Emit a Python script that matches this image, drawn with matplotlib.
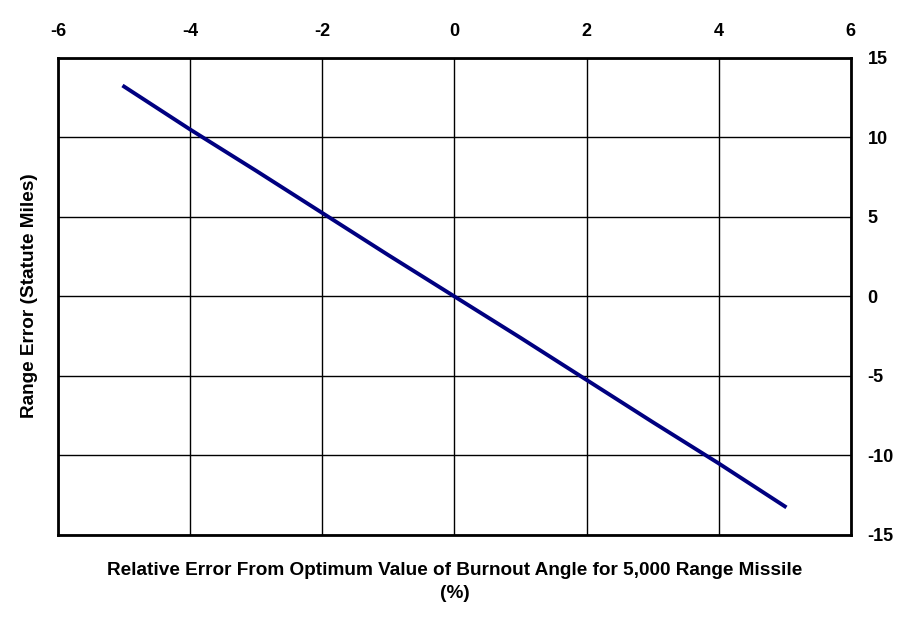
import matplotlib
matplotlib.use("Agg")
from matplotlib import pyplot as plt

# relative error in burnout angle (%) vs. range error (statute miles)
angle_err = [-5, -4, -3, -2, -1, 0, 1, 2, 3, 4, 5]
range_err = [13.2, 10.5, 7.9, 5.25, 2.6, 0, -2.6, -5.25, -7.9, -10.5, -13.2]

x_ticks = [-6, -4, -2, 0, 2, 4, 6]
y_ticks = [-15, -10, -5, 0, 5, 10, 15]

plt.rcParams['font.family'] = ['Liberation Sans', 'DejaVu Sans']
plt.rcParams['font.weight'] = 'bold'
plt.rcParams['axes.unicode_minus'] = False

fig = plt.figure(figsize=(9.11, 6.23), dpi=100)
ax = fig.add_axes([0.0637, 0.1413, 0.8703, 0.7657])

ax.plot(angle_err, range_err, color='#000080', lw=2.8, solid_capstyle='projecting')

ax.set_xlim(-6, 6)
ax.set_ylim(-15, 15)
ax.set_xticks(x_ticks)
ax.set_yticks(y_ticks)
ax.grid(True, color='black', lw=1)
ax.set_axisbelow(True)

ax.xaxis.tick_top()
ax.yaxis.tick_right()
ax.tick_params(length=0, labelsize=13)
ax.tick_params(axis='x', pad=13)
ax.tick_params(axis='y', pad=12)
for s in ax.spines.values():
    s.set_linewidth(2)

fig.text(0.499, 0.085, "Relative Error From Optimum Value of Burnout Angle for 5,000 Range Missile",
         ha='center', va='center', fontsize=13.7, fontweight='bold')
fig.text(0.499, 0.0466, "(%)", ha='center', va='center', fontsize=13.7, fontweight='bold')
fig.text(0.0329, 0.525, "Range Error (Statute Miles)", ha='center', va='center',
         rotation=90, fontsize=13.7, fontweight='bold')

fig.savefig("out.png", dpi=100)
